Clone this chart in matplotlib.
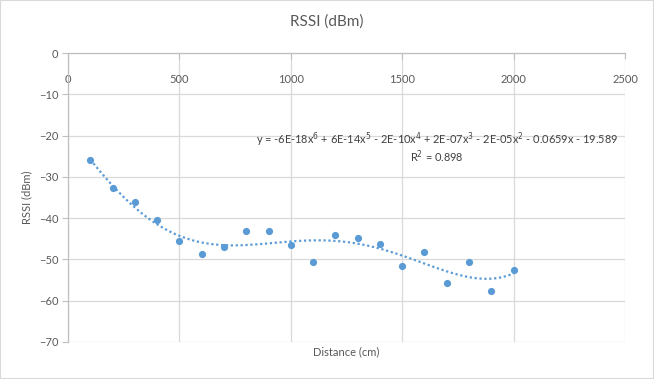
import numpy as np
import matplotlib
matplotlib.use("Agg")
import matplotlib.pyplot as plt
from matplotlib.patches import Rectangle

plt.rcParams['font.family'] = ['Lato', 'DejaVu Sans']

distance = [100, 200, 300, 400, 500, 600, 700, 800, 900, 1000,
            1100, 1200, 1300, 1400, 1500, 1600, 1700, 1800, 1900, 2000]
rssi = [-25.9, -32.7, -36.1, -40.4, -45.6, -48.8, -47.0, -43.1, -43.1, -46.5,
        -50.7, -44.1, -44.9, -46.3, -51.7, -48.3, -55.6, -50.7, -57.6, -52.5]
x_ticks = [0, 500, 1000, 1500, 2000, 2500]
y_ticks = [0, -10, -20, -30, -40, -50, -60, -70]
title = "RSSI (dBm)"
xlabel = "Distance (cm)"
ylabel = "RSSI (dBm)"
eq_text = ("y = -6E-18x$^6$ + 6E-14x$^5$ - 2E-10x$^4$ + 2E-07x$^3$ - 2E-05x$^2$ "
           "- 0.0659x - 19.589")
r2_text = "R$^2$ = 0.898"

blue = "#5b9bd5"
grid_c = "#d9d9d9"
txt_c = "#595959"

fig = plt.figure(figsize=(6.54, 3.79), dpi=100)
ax = fig.add_axes([68/654, 1-342/379, (625-68)/654, (342-53)/379])

x = np.array(distance, dtype=float)
y = np.array(rssi, dtype=float)
xs = (x - 1000) / 1000
coef = np.polyfit(xs, y, 6)
xf = np.linspace(x.min(), x.max(), 300)
yf = np.polyval(coef, (xf - 1000) / 1000)
ax.plot(xf, yf, linestyle=(0, (1, 1.2)), color=blue, linewidth=1.6, zorder=3)
ax.plot(x, y, 'o', color=blue, markersize=5.2, markeredgewidth=0, zorder=4)

ax.set_xlim(0, 2500)
ax.set_ylim(-70, 0)
ax.set_xticks(x_ticks)
ax.set_yticks(y_ticks)
ax.grid(True, color=grid_c, linewidth=0.9)
ax.set_axisbelow(True)
for s in ['bottom', 'right']:
    ax.spines[s].set_visible(False)
ax.spines['top'].set_color("#bfbfbf")
ax.spines['left'].set_color("#bfbfbf")
ax.spines['top'].set_linewidth(0.9)
ax.spines['left'].set_linewidth(0.9)

ax.xaxis.set_ticks_position('top')
ax.tick_params(axis='x', direction='in', length=4, color="#bfbfbf",
               labelsize=8, labelcolor=txt_c, pad=-15)
ax.tick_params(axis='y', direction='out', length=4, color="#bfbfbf",
               labelsize=8, labelcolor=txt_c, pad=3)
for lab in ax.get_xticklabels():
    lab.set_verticalalignment('top')

ax.set_xlabel(xlabel, fontsize=8, color=txt_c, labelpad=3)
ax.xaxis.set_label_position('bottom')
ax.set_ylabel(ylabel, fontsize=8, color=txt_c, labelpad=5)

fig.text(327/654, 1-22/379, title, ha='center', va='center', fontsize=11, color=txt_c)
ax.text(1656, -20.9, eq_text, ha='center', va='center', fontsize=7.9, color="#404040")
ax.text(1656, -25.2, r2_text, ha='center', va='center', fontsize=7.9, color="#404040")

fig.patches.append(Rectangle((0, 0), 1, 1, transform=fig.transFigure, fill=False,
                             edgecolor="#d9d9d9", linewidth=1.5))

fig.savefig("out.png", dpi=100)
